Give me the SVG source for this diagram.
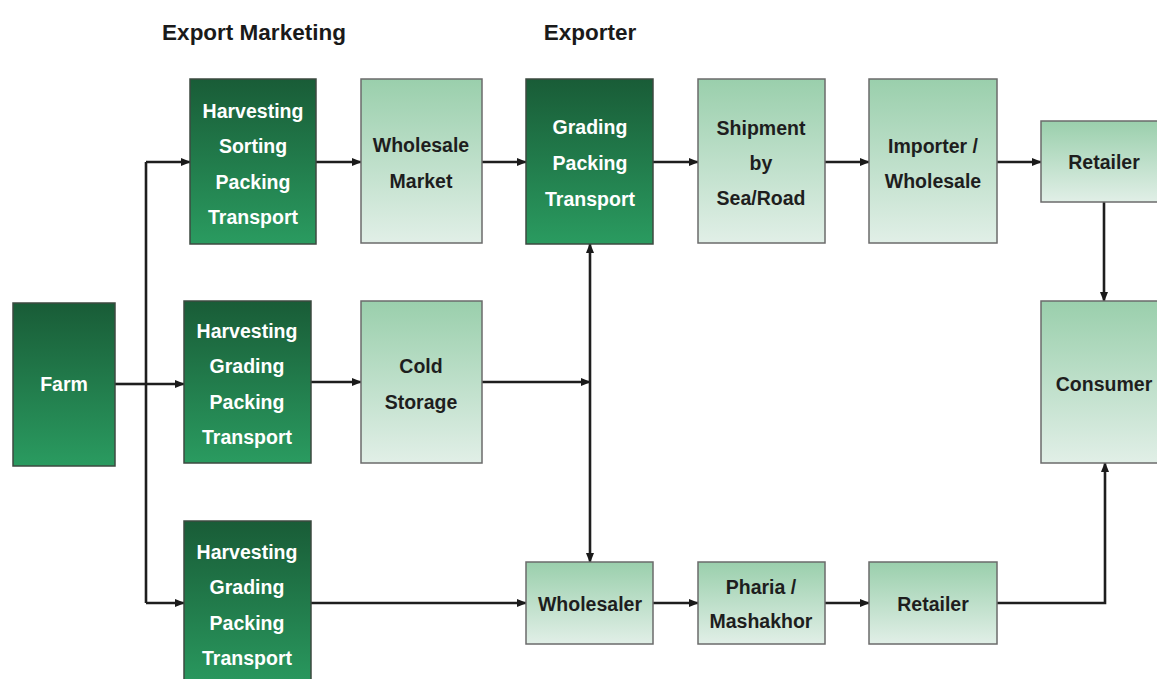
<svg xmlns="http://www.w3.org/2000/svg" width="1157" height="679" viewBox="0 0 1157 679">
<defs>
<linearGradient id="dark" x1="0" y1="0" x2="0" y2="1"><stop offset="0" stop-color="#195c37"/><stop offset="1" stop-color="#2a9b60"/></linearGradient>
<linearGradient id="light" x1="0" y1="0" x2="0" y2="1"><stop offset="0" stop-color="#9acfac"/><stop offset="1" stop-color="#e1efe7"/></linearGradient>
<marker id="ah" viewBox="0 0 10 10" refX="9" refY="5" markerWidth="4" markerHeight="4" orient="auto-start-reverse" markerUnits="strokeWidth"><path d="M0,1 L10,5 L0,9 z" fill="#1a1a1a"/></marker>
<style>
.d{fill:url(#dark);stroke:#3c4a40;stroke-width:1.5}
.l{fill:url(#light);stroke:#6b6b6b;stroke-width:1.5}
text{font-family:"Liberation Sans",Arial,sans-serif;font-weight:bold;font-size:19.5px;text-anchor:middle}
.w{fill:#ffffff}
.b{fill:#1e1e1e}
.h{fill:#1a1a1a;font-size:22.5px}
.c{fill:none;stroke:#1e1e1e;stroke-width:2.6}
.a{marker-end:url(#ah)}
</style>
</defs>
<rect width="1157" height="679" fill="#ffffff"/>
<text class="h" x="254" y="40">Export Marketing</text>
<text class="h" x="590" y="40">Exporter</text>
<g id="connectors">
<path class="c" d="M115,384 H146"/>
<path class="c a" d="M146,384 H184"/>
<path class="c" d="M146,162 V603"/>
<path class="c a" d="M146,162 H190"/>
<path class="c a" d="M146,603 H184"/>
<path class="c a" d="M316,162 H361"/>
<path class="c a" d="M482,162 H526"/>
<path class="c a" d="M653,162 H698"/>
<path class="c a" d="M825,162 H869"/>
<path class="c a" d="M997,162 H1041"/>
<path class="c a" d="M1104,202 V301"/>
<path class="c a" d="M311,382 H361"/>
<path class="c a" d="M482,382 H590"/>
<path class="c a" d="M590,403 V244"/>
<path class="c a" d="M590,403 V562"/>
<path class="c a" d="M311,603 H526"/>
<path class="c a" d="M653,603 H698"/>
<path class="c a" d="M825,603 H869"/>
<path class="c a" d="M997,603 H1105 V463"/>
</g>
<g id="farm"><rect class="d" x="13" y="303" width="102" height="163"/><text class="w" x="64" y="391">Farm</text></g>
<g id="harvest1"><rect class="d" x="190" y="79" width="126" height="165"/>
<text class="w" x="253" y="118">Harvesting</text><text class="w" x="253" y="153">Sorting</text><text class="w" x="253" y="189">Packing</text><text class="w" x="253" y="224">Transport</text></g>
<g id="harvest2"><rect class="d" x="184" y="301" width="127" height="162"/>
<text class="w" x="247" y="338">Harvesting</text><text class="w" x="247" y="373">Grading</text><text class="w" x="247" y="409">Packing</text><text class="w" x="247" y="444">Transport</text></g>
<g id="harvest3"><rect class="d" x="184" y="521" width="127" height="170"/>
<text class="w" x="247" y="559">Harvesting</text><text class="w" x="247" y="594">Grading</text><text class="w" x="247" y="630">Packing</text><text class="w" x="247" y="665">Transport</text></g>
<g id="wholesale-market"><rect class="l" x="361" y="79" width="121" height="164"/>
<text class="b" x="421" y="152">Wholesale</text><text class="b" x="421" y="188">Market</text></g>
<g id="cold-storage"><rect class="l" x="361" y="301" width="121" height="162"/>
<text class="b" x="421" y="373">Cold</text><text class="b" x="421" y="409">Storage</text></g>
<g id="exporter-gpt"><rect class="d" x="526" y="79" width="127" height="165"/>
<text class="w" x="590" y="134">Grading</text><text class="w" x="590" y="170">Packing</text><text class="w" x="590" y="206">Transport</text></g>
<g id="shipment"><rect class="l" x="698" y="79" width="127" height="164"/>
<text class="b" x="761" y="135">Shipment</text><text class="b" x="761" y="170">by</text><text class="b" x="761" y="205">Sea/Road</text></g>
<g id="importer"><rect class="l" x="869" y="79" width="128" height="164"/>
<text class="b" x="933" y="153">Importer /</text><text class="b" x="933" y="188">Wholesale</text></g>
<g id="retailer-top"><rect class="l" x="1041" y="121" width="120" height="81"/>
<text class="b" x="1104" y="169">Retailer</text></g>
<g id="consumer"><rect class="l" x="1041" y="301" width="120" height="162"/>
<text class="b" x="1104" y="391">Consumer</text></g>
<g id="wholesaler"><rect class="l" x="526" y="562" width="127" height="82"/>
<text class="b" x="590" y="611">Wholesaler</text></g>
<g id="pharia"><rect class="l" x="698" y="562" width="127" height="82"/>
<text class="b" x="761" y="594">Pharia /</text><text class="b" x="761" y="628">Mashakhor</text></g>
<g id="retailer-bottom"><rect class="l" x="869" y="562" width="128" height="82"/>
<text class="b" x="933" y="611">Retailer</text></g>
</svg>
